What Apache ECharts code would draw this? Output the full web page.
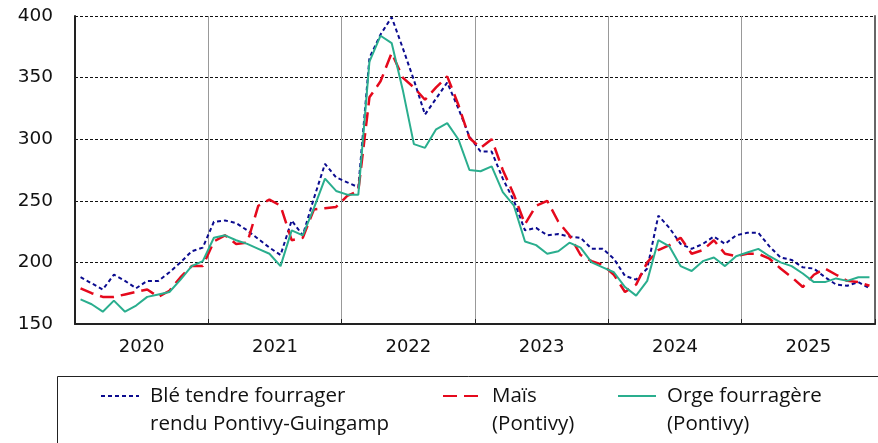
<!DOCTYPE html>
<html>
<head>
<meta charset="utf-8">
<script src="https://cdn.jsdelivr.net/npm/echarts@6/dist/echarts.min.js"></script>
<style>
  html, body { margin: 0; padding: 0; background: #fff; }
</style>
</head>
<body>
<div id="main" style="width: 878px;height:443px;"></div>
<script>
// années affichées sous l'axe
var years = ["2020", "2021", "2022", "2023", "2024", "2025"];
var monthNames = ["01", "02", "03", "04", "05", "06", "07", "08", "09", "10", "11", "12"];

// prix mensuels (€/t)
var ble = [
  188, 183, 178, 190, 185, 179, 185, 185, 192, 200, 209, 212,
  233, 234, 232, 226, 219, 212, 206, 234, 222, 252, 280, 269,
  265, 261, 366, 385, 399, 374, 348, 320, 333, 346, 325, 302,
  290, 290, 268, 250, 226, 228, 222, 223, 221, 220, 211, 211,
  203, 189, 186, 195, 238, 228, 215, 211, 215, 221, 215, 222,
  224, 224, 213, 204, 202, 196, 195, 188, 182, 181, 184, 179
];
var mais = [
  179, 175, 172, 172, 174, 176, 178, 172, 177, 188, 197, 197,
  217, 222, 215, 216, 246, 251, 246, 218, 220, 243, 244, 245,
  254, 258, 334, 347, 370, 350, 342, 332, 342, 351, 328, 301,
  293, 300, 275, 255, 231, 246, 250, 233, 222, 206, 201, 198,
  190, 176, 182, 200, 210, 214, 220, 207, 210, 218, 207, 205,
  207, 207, 203, 195, 188, 180, 190, 195, 190, 185, 184, 181
];
var orge = [
  170, 166, 160, 169, 160, 165, 172, 174, 176, 186, 197, 201,
  220, 222, 218, 215, 211, 207, 197, 226, 222, 244, 268, 258,
  255, 255, 363, 384, 378, 340, 296, 293, 308, 313, 300, 275,
  274, 278, 257, 246, 217, 214, 207, 209, 216, 212, 200, 196,
  192, 180, 173, 185, 218, 213, 197, 193, 201, 204, 197, 205,
  208, 211, 205, 200, 197, 191, 184, 184, 187, 185, 188, 188
];
var yTicks = [150, 200, 250, 300, 350, 400];

var seriesNames = [
  "Blé tendre fourrager\nrendu Pontivy-Guingamp",
  "Maïs\n(Pontivy)",
  "Orge fourragère\n(Pontivy)"
];

// catégories mensuelles
var months = [];
years.forEach(function (y) {
  monthNames.forEach(function (m) {
    months.push(y + "-" + m);
  });
});

var myChart = echarts.init(document.getElementById("main"));

function makeLegend(name, left) {
  return {
    data: [name],
    left: left,
    top: 354,
    orient: "horizontal",
    itemWidth: 38,
    itemHeight: 14,
    itemGap: 0,
    padding: 0,
    itemStyle: { opacity: 0 },
    // ligne vide en tête : le symbole se cale sur la 1re ligne du texte
    formatter: function (n) {
      return " \n" + n;
    },
    textStyle: {
      fontFamily: "Open Sans",
      fontSize: 20.5,
      color: "#111",
      lineHeight: 28,
      padding: [0, 0, 0, 6]
    }
  };
}

var option = {
  animation: false,
  backgroundColor: "#fff",
  grid: {
    left: 75,
    right: 3,
    top: 16,
    bottom: 119,
    containLabel: false
  },
  legend: [
    makeLegend(seriesNames[0], 100),
    makeLegend(seriesNames[1], 442),
    makeLegend(seriesNames[2], 617)
  ],
  graphic: [
    {
      type: "rect",
      left: 55,
      top: 374,
      shape: { width: 900, height: 120 },
      style: { fill: "none", stroke: "#222", lineWidth: 1 },
      z: 0
    }
  ],
  xAxis: [
    {
      // axe mensuel (caché) qui porte les séries
      type: "category",
      data: months,
      position: "bottom",
      boundaryGap: true,
      show: false
    },
    {
      // axe des années
      type: "category",
      data: years,
      position: "bottom",
      boundaryGap: true,
      axisLine: { show: true, lineStyle: { color: "#222", width: 2 } },
      axisTick: { show: true, inside: true, length: 5, lineStyle: { color: "#222" } },
      axisLabel: {
        fontFamily: "DejaVu Sans",
        fontSize: 18,
        color: "#111",
        margin: 14
      },
      splitLine: { show: true, lineStyle: { color: "#999", width: 1 } }
    }
  ],
  yAxis: [
    {
      type: "value",
      min: yTicks[0],
      max: yTicks[yTicks.length - 1],
      interval: 50,
      axisLine: { show: true, lineStyle: { color: "#222", width: 2 } },
      axisTick: { show: false },
      axisLabel: {
        fontFamily: "DejaVu Sans",
        fontSize: 18.5,
        color: "#111",
        margin: 22
      },
      splitLine: {
        show: true,
        lineStyle: { color: "#111", width: 1, type: [3, 2] }
      }
    },
    {
      // bord droit du cadre
      type: "value",
      position: "right",
      min: yTicks[0],
      max: yTicks[yTicks.length - 1],
      interval: 50,
      axisLine: { show: true, lineStyle: { color: "#666", width: 2 } },
      axisTick: { show: false },
      axisLabel: { show: false },
      splitLine: { show: false }
    }
  ],
  series: [
    {
      name: seriesNames[0],
      type: "line",
      xAxisIndex: 0,
      yAxisIndex: 0,
      symbol: "none",
      lineStyle: { color: "#0b0b8f", width: 2, type: [4, 3] },
      itemStyle: { color: "#0b0b8f" },
      data: ble
    },
    {
      name: seriesNames[1],
      type: "line",
      xAxisIndex: 0,
      yAxisIndex: 0,
      symbol: "none",
      lineStyle: { color: "#e5091c", width: 2.5, type: [14, 7] },
      itemStyle: { color: "#e5091c" },
      data: mais
    },
    {
      name: seriesNames[2],
      type: "line",
      xAxisIndex: 0,
      yAxisIndex: 0,
      symbol: "none",
      lineStyle: { color: "#2aae8e", width: 2 },
      itemStyle: { color: "#2aae8e" },
      data: orge
    }
  ]
};

myChart.setOption(option);
</script>
</body>
</html>
